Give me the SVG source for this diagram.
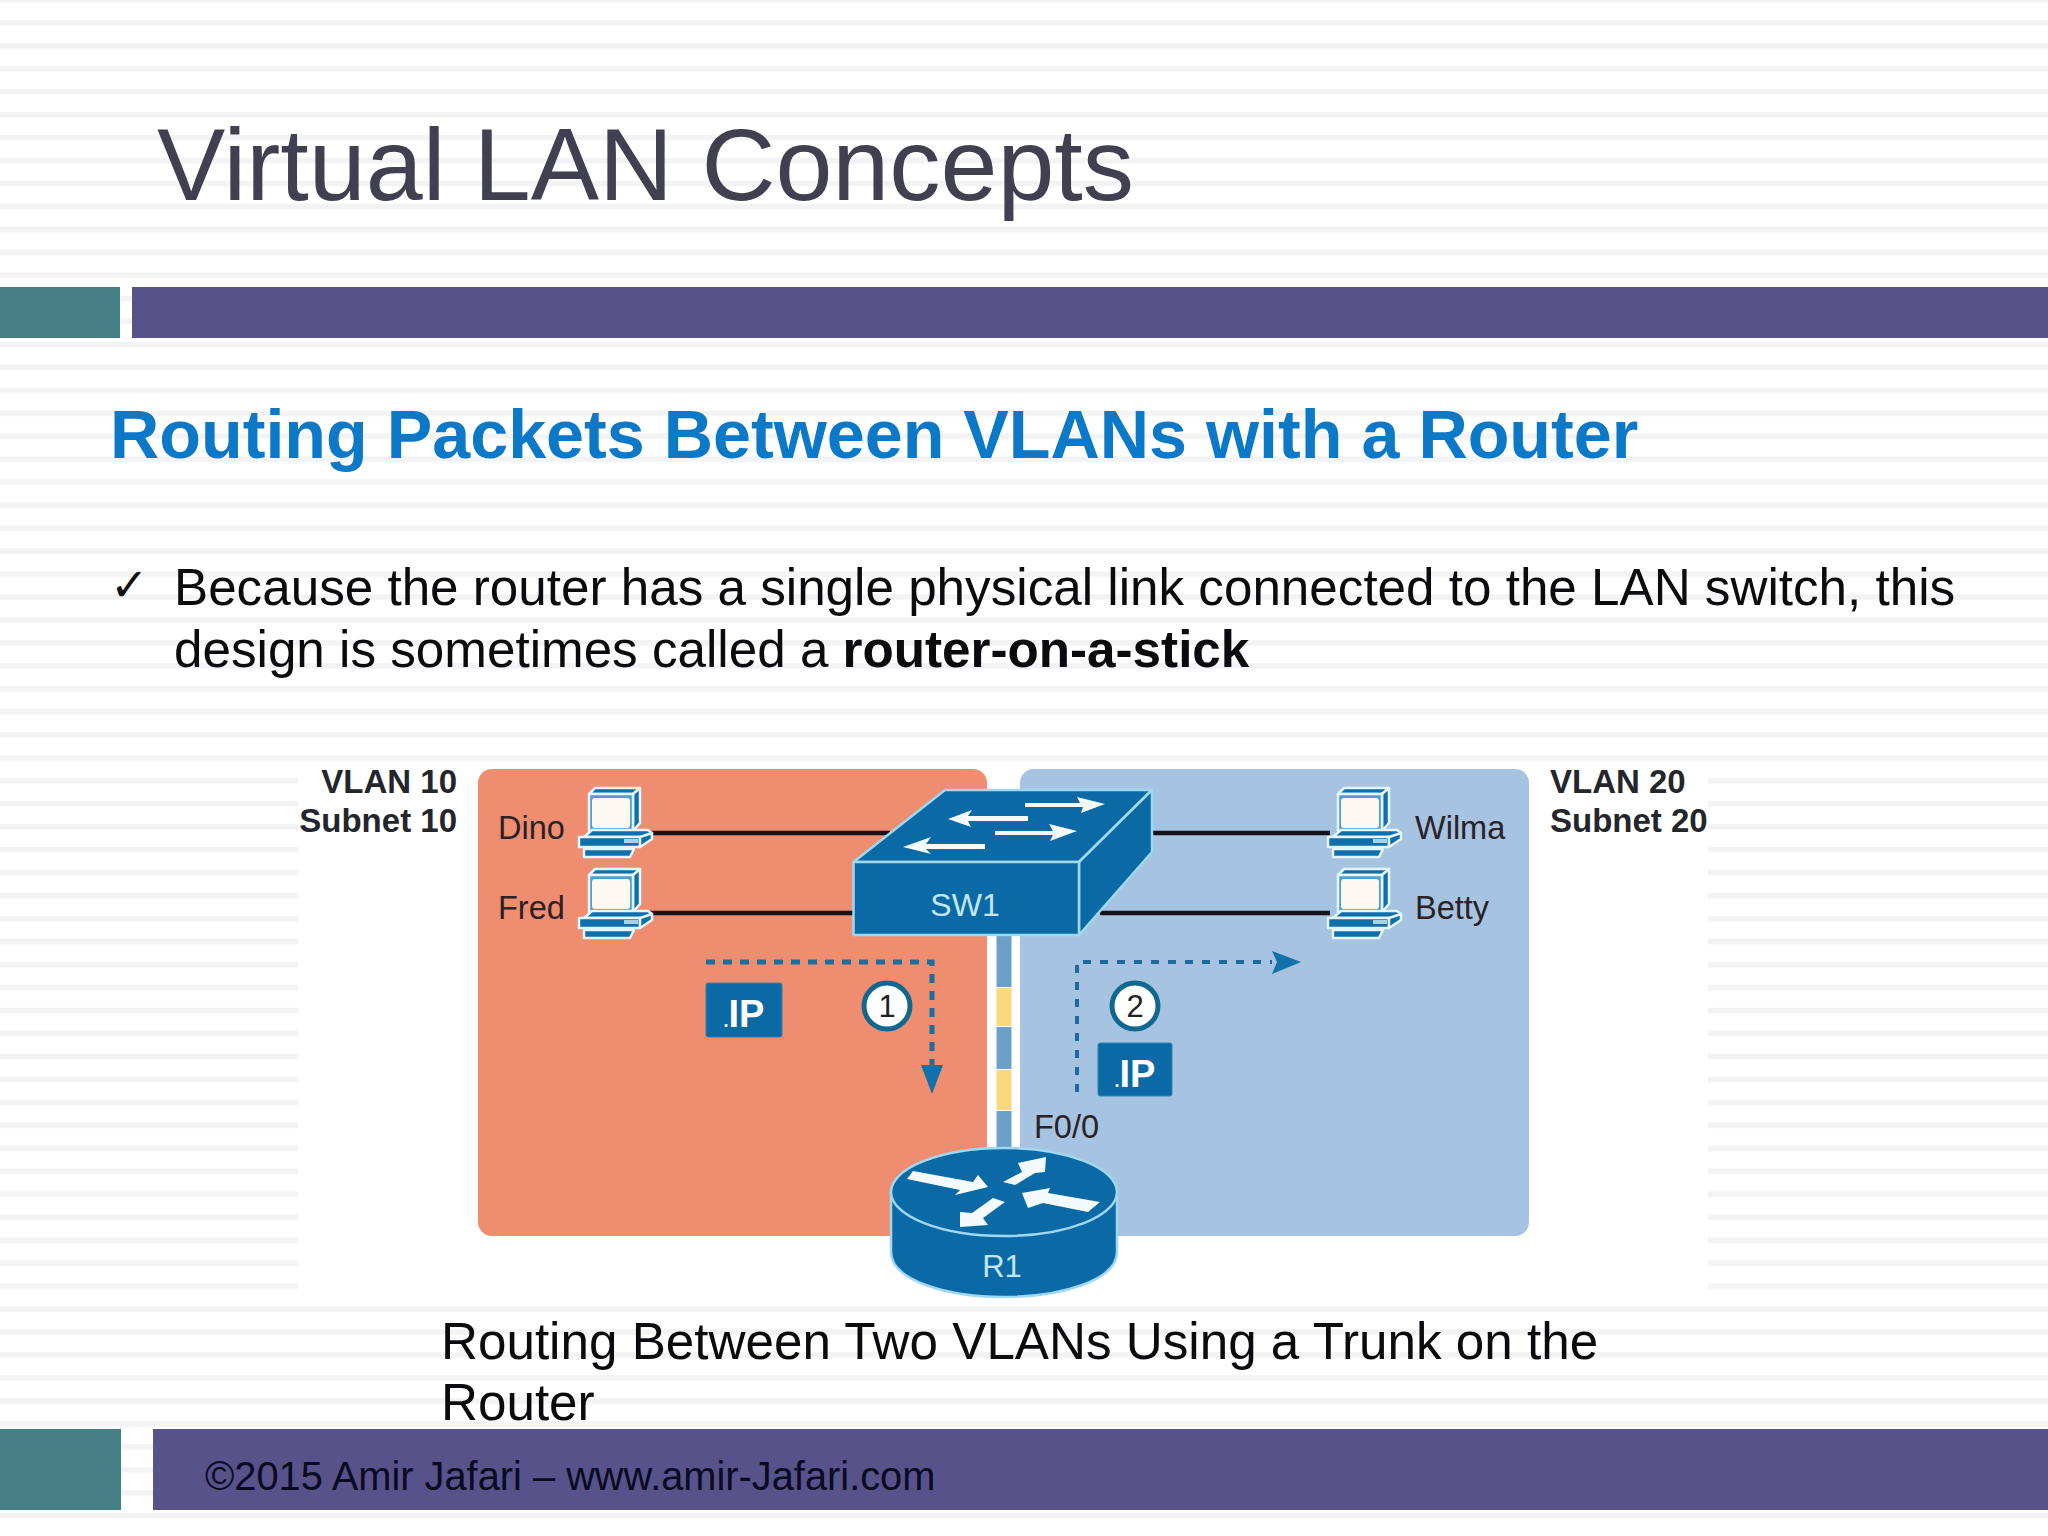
<svg xmlns="http://www.w3.org/2000/svg" width="2048" height="1536" viewBox="0 0 2048 1536">
<style>
text{font-family:"Liberation Sans",Arial,sans-serif}
.lab{font-size:32.5px;fill:#2a2226}
.head{font-size:33px;font-weight:bold;fill:#23262b}
.ip{font-size:38px;font-weight:bold;fill:#fff;text-anchor:middle}
.dot{font-size:18px}
.body{font-size:51.2px;fill:#0b0b0f}
.num{font-size:31px;fill:#222;text-anchor:middle}
.dev{fill:#c4e6f6;text-anchor:middle}
.b{fill:#0b6aa6}
.o{stroke:#9fd8f2;stroke-width:2.5;stroke-linejoin:round}
.link{stroke:#16121a;stroke-width:4.5;fill:none}
.dash{stroke:#1a6f9f;stroke-width:5;fill:none;stroke-dasharray:9 8}
.dash2{stroke:#1f6a9c;stroke-width:4;fill:none;stroke-dasharray:8 9}
.badge{fill:#0b6aa6;stroke:#2f84b8;stroke-width:1}
.circ{fill:#fff;stroke:#10688f;stroke-width:5}
.wa{fill:#f4fbfe}
</style>
<defs>
<pattern id="stripes" width="2048" height="22.97" patternUnits="userSpaceOnUse">
<rect width="2048" height="22.97" fill="#fff"/>
<rect y="20" width="2048" height="5.5" fill="#f3f3f5"/>
<rect y="0" width="2048" height="2.5" fill="#f3f3f5"/>
</pattern>
<g id="pc">
<g stroke="#e4f6fc" stroke-width="2.5" stroke-linejoin="round" fill="#0f6fab">
<path d="M11 6 17 0H62L55 6Z"/>
<path d="M55 6 62 0V35L55 43Z"/>
<path d="M11 6H55V43H11Z" fill="#4f9fcb"/>
<path d="M6 49 14 42H70L74 45 66 49Z"/>
<path d="M1 49H62V59H1Z"/>
<path d="M62 49 74 45V51L62 59Z"/>
<path d="M6 61H56L52 69H6Z"/>
</g>
<rect x="14" y="10" width="38" height="30" rx="3" fill="#fdf8f0"/>
<rect x="46" y="51" width="14" height="4" fill="#a5d3ea"/>
</g>
</defs>
<rect id="background" width="2048" height="1536" fill="url(#stripes)"/>
<rect id="picture-ground" x="298" y="769" width="1410" height="524" fill="#fff"/>

<g id="title">
<text x="157" y="200" font-size="102.4" fill="#404050">Virtual LAN Concepts</text>
</g>
<g id="top-bars">
<rect x="0" y="287" width="120" height="51" fill="#457f85"/>
<rect x="132" y="287" width="1916" height="51" fill="#57528a"/>
</g>
<g id="heading">
<text x="110" y="458" font-size="68.25" font-weight="bold" fill="#0b78c8">Routing Packets Between VLANs with a Router</text>
</g>
<g id="bullet">
<text x="110" y="601" font-size="46" fill="#111" style="font-family:'DejaVu Sans',sans-serif">✓</text>
<text class="body" x="174" y="605">Because the router has a single physical link connected to the LAN switch, this</text>
<text class="body" x="174" y="667">design is sometimes called a <tspan font-weight="bold">router-on-a-stick</tspan></text>
</g>

<g id="vlan10-zone"><rect x="478" y="769" width="509" height="467" rx="14" fill="#ef8d70"/></g>
<g id="vlan20-zone"><rect x="1020" y="769" width="509" height="467" rx="14" fill="#a6c3e1"/></g>

<g id="vlan10-label">
<text class="head" x="457" y="793" text-anchor="end">VLAN 10</text>
<text class="head" x="457" y="832" text-anchor="end">Subnet 10</text>
</g>
<g id="vlan20-label">
<text class="head" x="1550" y="793">VLAN 20</text>
<text class="head" x="1550" y="832">Subnet 20</text>
</g>

<g id="connectors">
<path class="link" d="M650 833H890"/>
<path class="link" d="M650 913H856"/>
<path class="link" d="M1150 833H1330"/>
<path class="link" d="M1100 913H1330"/>
<g id="trunk">
<rect x="996.500" y="936" width="15" height="51" fill="#6d9fcb"/>
<rect x="996.500" y="988" width="15" height="38" fill="#f8d97e"/>
<rect x="996.500" y="1027" width="15" height="42" fill="#6d9fcb"/>
<rect x="996.500" y="1070" width="15" height="40" fill="#f8d97e"/>
<rect x="996.500" y="1111" width="15" height="40" fill="#6d9fcb"/>
</g>
<path class="dash" d="M706 962H932V1066"/>
<path d="M921 1065H943L932 1094Z" fill="#1271a9"/>
<path class="dash2" d="M1077 1092V962H1272"/>
<path d="M1272 951 1301 962 1272 974 1277 962Z" fill="#1271a9"/>
</g>

<g id="pc-dino"><use href="#pc" x="578" y="788"/><text class="lab" x="498" y="839">Dino</text></g>
<g id="pc-fred"><use href="#pc" x="578" y="869"/><text class="lab" x="498" y="919">Fred</text></g>
<g id="pc-wilma"><use href="#pc" x="1327" y="788"/><text class="lab" x="1415" y="839">Wilma</text></g>
<g id="pc-betty"><use href="#pc" x="1327" y="869"/><text class="lab" x="1415" y="919">Betty</text></g>

<g id="sw1">
<path class="b o" d="M853.500 862 945 790H1152L1079 862Z"/>
<path class="b o" d="M1079 862 1152 790V852L1079 935Z"/>
<path class="b o" d="M853.500 862H1079V935H853.500Z"/>
<path class="wa" d="M1025 803H1080L1077 797 1105 804 1081 813 1083 807H1025Z"/>
<path class="wa" d="M1028 816V821H968L971 827 948 819 972 810 968 816Z"/>
<path class="wa" d="M995 831H1053L1049 824 1077 831 1050 841 1053 835H995Z"/>
<path class="wa" d="M985 844V849H926L931 854 903 847 931 837 926 844Z"/>
<text class="dev" x="965" y="916" font-size="32">SW1</text>
</g>

<g id="r1">
<path class="b o" d="M891 1192V1252C891 1280 946 1297 1004 1297S1117 1280 1117 1252V1192Z"/>
<ellipse class="b o" cx="1004" cy="1192" rx="113" ry="44"/>
<path class="wa" d="M907 1179 913 1171 973 1182 978 1175 988 1187 955 1195 960 1190Z"/>
<path class="wa" d="M1046 1157 1018 1163 1022 1172 1003 1182 1015 1185 1035 1173 1045 1172Z"/>
<path class="wa" d="M1022 1193 1050 1188 1048 1193 1100 1202 1088 1212 1043 1203 1028 1208Z"/>
<path class="wa" d="M960 1227 960 1212 972 1213 993 1198 1005 1202 983 1218 988 1225Z"/>
<text class="dev" x="1002" y="1277" font-size="31">R1</text>
</g>

<g id="f00-label"><text class="lab" x="1034" y="1138">F0/0</text></g>

<g id="packet-1">
<rect class="badge" x="706" y="983" width="76" height="54" rx="2"/>
<text class="ip" x="744" y="1027"><tspan class="dot">.</tspan>IP</text>
</g>
<g id="step-1">
<circle class="circ" cx="887" cy="1006" r="23"/>
<text class="num" x="887" y="1017">1</text>
</g>
<g id="step-2">
<circle class="circ" cx="1135" cy="1006" r="23"/>
<text class="num" x="1135" y="1017">2</text>
</g>
<g id="packet-2">
<rect class="badge" x="1098" y="1043" width="74" height="53" rx="2"/>
<text class="ip" x="1135" y="1087"><tspan class="dot">.</tspan>IP</text>
</g>

<g id="caption">
<text class="body" x="441" y="1359">Routing Between Two VLANs Using a Trunk on the</text>
<text class="body" x="441" y="1420">Router</text>
</g>
<g id="footer">
<rect x="0" y="1429" width="121" height="81" fill="#457f85"/>
<rect x="153" y="1429" width="1895" height="81" fill="#57528a"/>
<text x="205" y="1490" font-size="39.8" fill="#0a0a22">©2015 Amir Jafari – www.amir-Jafari.com</text>
</g>
</svg>
